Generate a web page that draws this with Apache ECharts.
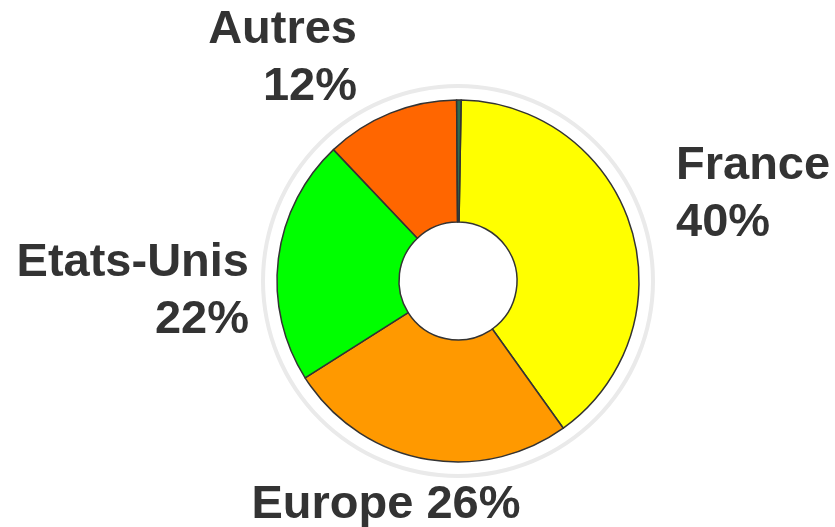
<!DOCTYPE html>
<html>
<head>
<meta charset="utf-8">
<script src="https://cdn.jsdelivr.net/npm/echarts@6/dist/echarts.min.js"></script>
<style>
  html, body { margin: 0; padding: 0; background: #fff; }
  #pie { width: 835px; height: 527px; }
</style>
</head>
<body>
<div id="pie"></div>
<script>
// données du camembert
var regions = ['France', 'Europe', 'Etats-Unis', 'Autres', ''];
var parts = [40, 26, 22, 12, 0.4];
var couleurs = ['#FFFF00', '#FF9900', '#00FF00', '#FF6600', '#2E6B50'];

// position des étiquettes (x, y, alignement)
var etiquettes = [
    { x: 676, y: 195, align: 'left' },
    { x: 386, y: 505, align: 'center' },
    { x: 249, y: 292, align: 'right' },
    { x: 357, y: 59, align: 'right' },
    null
];

var myChart = echarts.init(document.getElementById('pie'));

var data = [];
for (var i = 0; i < regions.length; i++) {
    data.push({
        name: regions[i],
        value: parts[i],
        itemStyle: { color: couleurs[i] },
        label: { show: regions[i] !== '' }
    });
}

myChart.setOption({
    animation: false,
    series: [
        {
            // anneau gris autour
            type: 'pie',
            silent: true,
            center: [458, 281],
            radius: [193, 197],
            label: { show: false },
            labelLine: { show: false },
            itemStyle: { color: '#EAEAEA' },
            data: [{ name: 'anneau', value: 1 }]
        },
        {
            type: 'pie',
            center: [458, 281],
            radius: [59, 181],
            startAngle: 89,
            clockwise: true,
            avoidLabelOverlap: false,
            itemStyle: {
                borderColor: '#333333',
                borderWidth: 1.5
            },
            label: {
                position: 'outside',
                fontFamily: 'Liberation Sans, Arial, sans-serif',
                fontWeight: 'bold',
                fontSize: 47,
                lineHeight: 57,
                color: '#333333',
                formatter: function (p) {
                    var sep = p.name === 'Europe' ? ' ' : '\n';
                    return p.name + sep + p.value + '%';
                }
            },
            labelLine: { show: false },
            labelLayout: function (params) {
                var e = etiquettes[params.dataIndex];
                if (!e) return {};
                return {
                    x: e.x,
                    y: e.y,
                    align: e.align,
                    verticalAlign: 'middle'
                };
            },
            emphasis: { disabled: true },
            data: data
        }
    ]
});
</script>
</body>
</html>
